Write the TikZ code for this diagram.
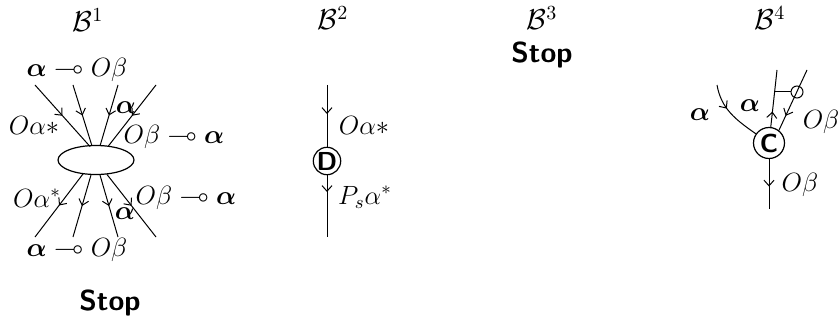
\RequirePackage{fix-cm}
\documentclass[tikz,border=0pt]{standalone}
\usepackage{amsmath,amssymb}
\usetikzlibrary{arrows.meta,decorations.markings,shapes.geometric}
\tikzset{
  ln/.style={line width=0.5pt},
  marr/.style={postaction={decorate},decoration={markings,mark=at position #1 with {\arrow{Straight Barb[length=2.8pt,width=5pt,line width=0.5pt]}}}},
  marr/.default=0.5,
  lbl/.style={inner sep=0pt,font=\fontsize{13.2}{16}\selectfont},
  title/.style={inner sep=0pt,font=\fontsize{14.4}{17}\selectfont},
  stoplbl/.style={inner sep=0pt,font=\fontsize{14.4}{17}\selectfont\sffamily\bfseries},
  disc/.style={circle,draw,line width=0.6pt,inner sep=0pt,font=\fontsize{13}{15}\selectfont\sffamily\bfseries},
  blob/.style={ellipse,draw,line width=0.6pt,inner sep=0pt,minimum width=38pt,minimum height=14.5pt}
}
\newcommand{\ba}{\boldsymbol{\alpha}}
\begin{document}
\begin{tikzpicture}[x=0.5pt,y=-0.5pt]
\useasboundingbox (0,0) rectangle (839,320);
% ---------- B^1
\node[title] (b1) at (88,20) {$\mathcal{B}^1$};
\node[blob] (e) at (96,160) {};
\coordinate (a1) at (35,85);  \coordinate (p1) at (90,146.5);
\coordinate (a2) at (73,85);  \coordinate (p2) at (92,146);
\coordinate (a3) at (118,85); \coordinate (p3) at (100,146);
\coordinate (a4) at (156,85); \coordinate (p4) at (108,146.5);
\draw[ln,marr] (a1) -- (p1);
\draw[ln,marr] (a2) -- (p2);
\draw[ln,marr] (a3) -- (p3);
\draw[ln,marr] (a4) -- (p4);
\coordinate (q1) at (83,174);  \coordinate (c1) at (35,237);
\coordinate (q2) at (91,175);  \coordinate (c2) at (73,237);
\coordinate (q3) at (100,175); \coordinate (c3) at (118,237);
\coordinate (q4) at (107,174.5); \coordinate (c4) at (156,237);
\draw[ln,marr] (q1) -- (c1);
\draw[ln,marr] (q2) -- (c2);
\draw[ln,marr] (q3) -- (c3);
\draw[ln,marr] (q4) -- (c4);
\node[lbl] (l1) at (77,70) {$\ba\multimap O\beta$};
\node[lbl] (l2) at (34,125) {$O\alpha*$};
\node[lbl] (l3) at (126,108) {$\ba$};
\node[lbl] (l4) at (174,137) {$O\beta\multimap\ba$};
\node[lbl] (l5) at (37,198) {$O\alpha^*$};
\node[lbl] (l6) at (186,198) {$O\beta\multimap\ba$};
\node[lbl] (l7) at (125,214) {$\ba$};
\node[lbl] (l8) at (77,250) {$\ba\multimap O\beta$};
\node[stoplbl] (s1) at (110,303) {Stop};
% ---------- B^2
\node[title] (b2) at (333,18) {$\mathcal{B}^2$};
\node[disc,minimum size=13.5pt] (D) at (327,161) {D};
\coordinate (d0) at (327,85);
\coordinate (d1) at (327,237);
\draw[ln,marr=0.47] (d0) -- (D);
\draw[ln,marr=0.27] (D) -- (d1);
\node[lbl] (l9) at (364,125) {$O\alpha*$};
\node[lbl] (l10) at (365,197) {$P_s\alpha^*$};
% ---------- B^3
\node[title] (b3) at (542,18) {$\mathcal{B}^3$};
\node[stoplbl] (s3) at (542,55) {Stop};
% ---------- B^4
\node[title] (b4) at (770,18) {$\mathcal{B}^4$};
\node[disc,minimum size=15.5pt] (C) at (769,143) {C};
\coordinate (u1) at (717,85);
\coordinate (u2) at (777,70);
\coordinate (u3) at (807,70);
\coordinate (u4) at (769,209);
\node[circle,draw,line width=0.5pt,inner sep=0pt,minimum size=6pt] (k) at (797,92) {};
\coordinate (kt) at (775,92);
\draw[ln,marr=0.4] (u1) to[out=-80,in=145] (C);
\draw[ln,marr=0.27] (C) -- (u2);
\draw[ln,marr=0.76] (u3) -- (C.52);
\draw[ln] (kt) -- (k.west);
\draw[ln,marr=0.55] (C) -- (u4);
\node[lbl] (l11) at (700,115) {$\ba$};
\node[lbl] (l12) at (750,106) {$\ba$};
\node[lbl] (l13) at (821,122) {$O\beta$};
\node[lbl] (l14) at (800,185) {$O\beta$};
\end{tikzpicture}
\end{document}
